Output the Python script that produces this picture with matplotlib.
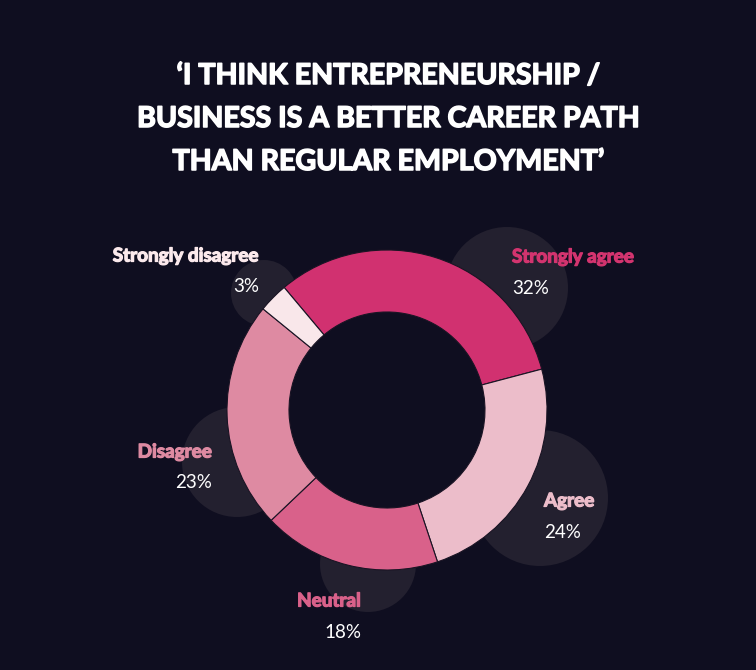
import matplotlib
matplotlib.use("Agg")
import matplotlib.pyplot as plt
from matplotlib.patches import Circle
import matplotlib.patheffects as pe

# ---- data ----
categories = ["Strongly agree", "Agree", "Neutral", "Disagree", "Strongly disagree"]
values = [32, 24, 18, 23, 3]
pct_labels = ["32%", "24%", "18%", "23%", "3%"]
title_lines = ["\u2018I THINK ENTREPRENEURSHIP /",
               "BUSINESS IS A BETTER CAREER PATH",
               "THAN REGULAR EMPLOYMENT\u2019"]

# ---- styles / layout ----
BG = "#0f0e20"
BUBBLE = "#23202f"
wedge_colors = ["#d13170", "#ecbdca", "#d9618a", "#de8aa2", "#f9e7ea"]
label_colors = ["#d3346f", "#ecbdca", "#d9618a", "#de8aa2", "#fbe9ec"]

W, H = 756, 670
fig = plt.figure(figsize=(W / 100, H / 100), dpi=100, facecolor=BG)
ax = fig.add_axes([0, 0, 1, 1])
ax.set_facecolor(BG)
ax.set_xlim(0, W)
ax.set_ylim(0, H)
ax.set_aspect("equal")
ax.axis("off")

# decorative bubbles behind labels (x, y-from-top, r)
bubbles = [(507, 288, 61), (540, 498, 68), (368, 564, 48), (237, 462, 55), (264, 293, 33)]
for bx, by, br in bubbles:
    ax.add_patch(Circle((bx, H - by), br, facecolor=BUBBLE, edgecolor="none", zorder=1))

cx, cy, R = 387, H - 410, 160
wedges, _ = ax.pie(values, colors=wedge_colors, startangle=130, counterclock=False,
                   center=(cx, cy), radius=R, frame=True,
                   wedgeprops=dict(width=R - 98, edgecolor="#1a1424", linewidth=0.8))
for w in wedges:
    w.set_zorder(2)
ax.set_xlim(0, W)
ax.set_ylim(0, H)
ax.axis("off")

font = "Lato"
# title
for i, line in enumerate(title_lines):
    ax.text(388, H - (76 + i * 43), line, ha="center", va="center", color="white",
            fontsize=20.6, fontweight="bold", family=font, zorder=5,
            path_effects=[pe.withStroke(linewidth=1.1, foreground="white")])

# labels (x, y-from-top for category; percent below), alignment
label_pos = [(512, 257, "left"), (544, 501, "left"), (361, 601, "right"),
             (212, 452, "right"), (259, 256, "right")]
for (lx, ly, ha), cat, pct, col in zip(label_pos, categories, pct_labels, label_colors):
    ax.text(lx, H - ly, cat, ha=ha, va="center", color=col, fontsize=13.6,
            fontweight="bold", family=font, zorder=5,
            path_effects=[pe.withStroke(linewidth=0.9, foreground=col)])
    ax.text(lx, H - (ly + 31), pct, ha=ha, va="center", color="white", fontsize=13.5,
            fontweight="normal", family=font, zorder=5)

fig.savefig("out.png", dpi=100, facecolor=BG)
